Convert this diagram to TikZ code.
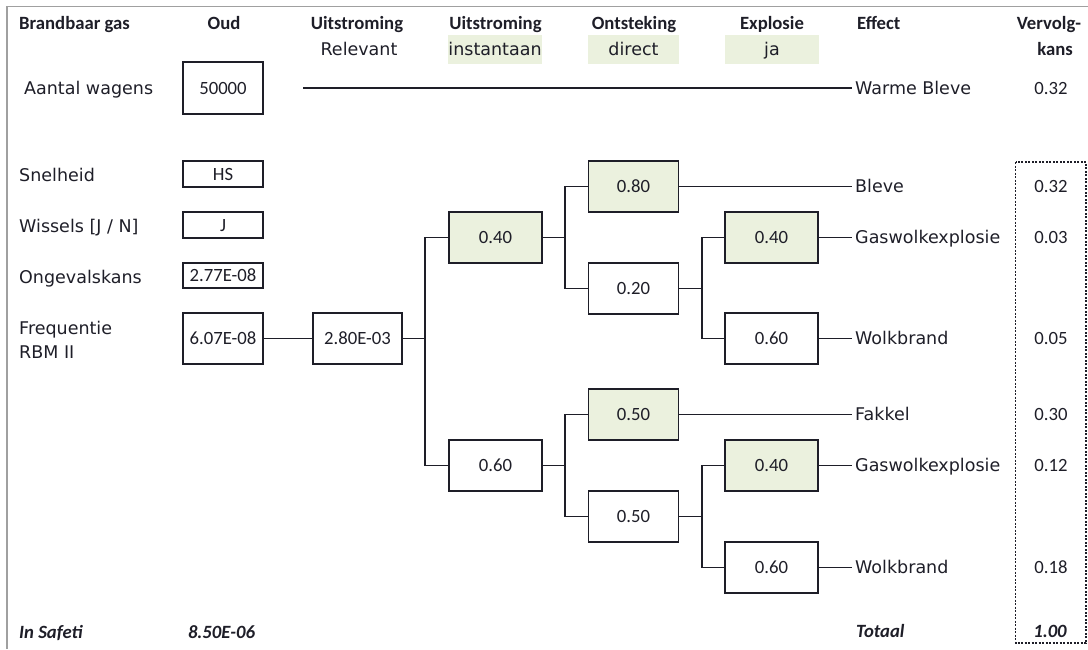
\documentclass[tikz,border=0pt]{standalone}
\usepackage{fontspec}
\setmainfont{Carlito}
\newfontfamily\labelfont{DejaVu Sans}
\definecolor{shade}{HTML}{EBF1DE}
\definecolor{ink}{HTML}{1E1E28}
\definecolor{frame}{HTML}{A0A0A0}

\begin{document}
\begin{tikzpicture}[x=1pt,y=-1pt,
  every node/.style={text=ink},
  hdr/.style={font=\fontsize{18.7}{22}\selectfont\bfseries, inner sep=0pt, text height=12pt, text depth=0pt},
  foot/.style={font=\fontsize{18.7}{22}\selectfont\bfseries\itshape, inner sep=0pt, text height=12pt, text depth=0pt},
  lbl/.style={font=\labelfont\fontsize{17.5}{20}\selectfont, inner sep=0pt, text height=12.6pt, text depth=0pt},
  num/.style={font=\fontsize{18.7}{22}\selectfont, inner sep=0pt, text height=12pt, text depth=0pt},
  effect/.style={lbl, anchor=west, inner xsep=3pt},
  tag/.style={lbl, fill=shade, minimum width=93pt, minimum height=29pt},
  valbox/.style={num, draw=ink, line width=1.5pt, minimum width=80pt, minimum height=51pt},
  thinbox/.style={valbox, minimum height=26pt},
  probbox/.style={valbox, minimum width=93pt},
  midbox/.style={valbox, minimum width=90pt},
  hot/.style={fill=shade},
  wire/.style={draw=ink, line width=1.4pt},
]
\useasboundingbox (0,0) rectangle (1088,649);

% sheet border (top and left)
\draw[frame, line width=1.5pt] (7,649) -- (7,6.3) -- (1088,6.3);

% column headers
\node[hdr, anchor=west] (hGas) at (19,23.5) {Brandbaar gas};
\node[hdr] (hOud) at (224,23.5) {Oud};
\node[hdr] (hUit1) at (357,23.5) {Uitstroming};
\node[hdr] (hUit2) at (495.5,23.5) {Uitstroming};
\node[hdr] (hOnt) at (634,23.5) {Ontsteking};
\node[hdr] (hExp) at (772,23.5) {Explosie};
\node[hdr, anchor=west] (hEff) at (857,23.5) {Effect};
\node[hdr] (hVer) at (1049,23.5) {Vervolg-};
\node[hdr] (hKans) at (1055,49.5) {kans};

\node[lbl] (sRel) at (359,49.5) {Relevant};
\node[tag, minimum width=94pt] (sInst) at (495,49) {instantaan};
\node[tag, minimum width=91pt] (sDir) at (633.5,49) {direct};
\node[tag, minimum width=94pt] (sJa) at (772,49) {ja};

% input parameters
\node[lbl, anchor=west] (lWag) at (24,88) {Aantal wagens};
\node[valbox, minimum height=52pt] (vWag) at (223,88) {50000};
\node[lbl, anchor=west] (lSnel) at (19,175) {Snelheid};
\node[thinbox] (vSnel) at (223,174) {HS};
\node[lbl, anchor=west] (lWis) at (19,226) {Wissels [J / N]};
\node[thinbox] (vWis) at (223,225) {J};
\node[lbl, anchor=west] (lOng) at (19,277) {Ongevalskans};
\node[thinbox, minimum height=25pt] (vOng) at (223,275.5) {2.77E-08};
\node[lbl, anchor=west] (lFr1) at (19,328) {Frequentie};
\node[lbl, anchor=west] (lFr2) at (19,352) {RBM II};
\node[valbox] (vFreq) at (223,338.5) {6.07E-08};

% event tree
\node[valbox, minimum width=89pt] (vRel) at (357.5,338.5) {2.80E-03};
\node[probbox, hot] (pInst) at (495.5,237.5) {0.40};
\node[probbox] (pCont) at (495.5,465.5) {0.60};
\node[midbox, hot] (pDirA) at (633.5,186.5) {0.80};
\node[midbox] (pLateA) at (633.5,288.5) {0.20};
\node[midbox, hot] (pDirB) at (633.5,414.5) {0.50};
\node[midbox] (pLateB) at (633.5,516.5) {0.50};
\node[probbox, hot] (pExpA) at (771.5,237.5) {0.40};
\node[probbox] (pNoA) at (771.5,338.5) {0.60};
\node[probbox, hot] (pExpB) at (771.5,465.5) {0.40};
\node[probbox] (pNoB) at (771.5,567.5) {0.60};

% effects
\node[effect] (eWarm) at (852,88) {Warme Bleve};
\node[effect] (eBleve) at (852,186.5) {Bleve};
\node[effect] (eGasA) at (852,237.5) {Gaswolkexplosie};
\node[effect] (eWolkA) at (852,338.5) {Wolkbrand};
\node[effect] (eFak) at (852,414.5) {Fakkel};
\node[effect] (eGasB) at (852,465.5) {Gaswolkexplosie};
\node[effect] (eWolkB) at (852,567.5) {Wolkbrand};

% follow-up probabilities
\node[num] (kWarm) at (1051,88) {0.32};
\node[num] (kBleve) at (1051,186.5) {0.32};
\node[num] (kGasA) at (1051,237.5) {0.03};
\node[num] (kWolkA) at (1051,338.5) {0.05};
\node[num] (kFak) at (1051,414.5) {0.30};
\node[num] (kGasB) at (1051,465.5) {0.12};
\node[num] (kWolkB) at (1051,567.5) {0.18};

% totals
\node[foot, anchor=west] (fSaf) at (19,632) {In Safeti};
\node[foot] (fSafV) at (221.5,632) {8.50E-06};
\node[foot, anchor=west] (fTot) at (856,631) {Totaal};
\node[foot] (fTotV) at (1050,631) {1.00};

\draw[ink, line width=1.5pt, dash pattern=on 2pt off 1.5pt] (1015.5,162) rectangle (1086,643);

% branch points
\coordinate (wStart) at (303,88);
\coordinate (k1) at (425,338.5);
\coordinate (k2) at (565,237.5);
\coordinate (k3) at (702,288.5);
\coordinate (k4) at (565,465.5);
\coordinate (k5) at (702,516.5);

\draw[wire] (wStart) -- (eWarm.west);
\draw[wire] (vFreq) -- (vRel);
\draw[wire] (vRel.east) -- (k1);
\draw[wire] (pInst.west) -| (k1) |- (pCont.west);
\draw[wire] (pInst.east) -- (k2);
\draw[wire] (pDirA.west) -| (k2) |- (pLateA.west);
\draw[wire] (pLateA.east) -- (k3);
\draw[wire] (pExpA.west) -| (k3) |- (pNoA.west);
\draw[wire] (pCont.east) -- (k4);
\draw[wire] (pDirB.west) -| (k4) |- (pLateB.west);
\draw[wire] (pLateB.east) -- (k5);
\draw[wire] (pExpB.west) -| (k5) |- (pNoB.west);

\draw[wire] (pDirA.east) -- (eBleve.west);
\draw[wire] (pExpA.east) -- (eGasA.west);
\draw[wire] (pNoA.east) -- (eWolkA.west);
\draw[wire] (pDirB.east) -- (eFak.west);
\draw[wire] (pExpB.east) -- (eGasB.west);
\draw[wire] (pNoB.east) -- (eWolkB.west);
\end{tikzpicture}
\end{document}
